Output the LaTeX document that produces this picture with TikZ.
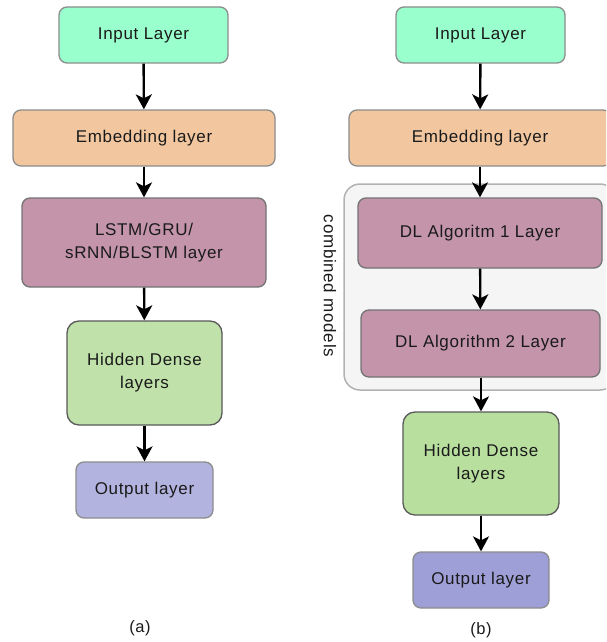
\documentclass[tikz,border=0pt]{standalone}
\usepackage{fontspec}
\setmainfont{Liberation Sans}[LetterSpace=4]
\usetikzlibrary{arrows.meta}
\definecolor{inFill}{HTML}{99FFCC}
\definecolor{embFill}{HTML}{F2C79F}
\definecolor{rnnFill}{HTML}{C394AA}
\definecolor{hidFillA}{HTML}{C0E1AA}
\definecolor{hidFillB}{HTML}{B9DF9E}
\definecolor{outFillA}{HTML}{B3B3E0}
\definecolor{outFillB}{HTML}{9F9FD8}
\definecolor{txt}{HTML}{1A1A1A}
\tikzset{
  box/.style={rectangle, rounded corners=8pt, draw=black!45, line width=1.3pt, inner sep=0pt, align=center, text=txt, font=\fontsize{17}{23}\selectfont},
  darkbox/.style={box, draw=black!65},
  flow/.style={line width=2.4pt, -{Stealth[length=15pt,width=16pt,inset=4pt]}},
  caption/.style={inner sep=0pt, text=txt, font=\fontsize{16.5}{20}\selectfont}
}
\begin{document}
\begin{tikzpicture}[x=1pt,y=-1pt]
\useasboundingbox (0,0) rectangle (606,642);
\clip (0,0) rectangle (606,642);
% (a)
\node[box, fill=inFill, minimum width=169pt, minimum height=56pt] (inA) at (143.5,35) {Input Layer};
\node[box, fill=embFill, minimum width=262pt, minimum height=56pt] (embA) at (144,138) {Embedding layer};
\node[box, fill=rnnFill, draw=black!55, minimum width=244pt, minimum height=89pt] (lstm) at (144,242.5) {LSTM/GRU/\\sRNN/BLSTM layer};
\node[darkbox, fill=hidFillA, minimum width=155pt, minimum height=104pt, rounded corners=12pt] (hidA) at (144.5,373) {Hidden Dense\\layers};
\node[box, fill=outFillA, minimum width=137pt, minimum height=56pt] (outA) at (144.5,490) {Output layer};
\node[caption] (labA) at (140,628) {(a)};
\draw[flow] (inA) -- (embA);
\draw[flow] (embA) -- (lstm);
\draw[flow] (lstm) -- (hidA);
\draw[flow] (hidA) -- (outA);
% (b)
\node[box, fill=inFill, minimum width=169pt, minimum height=56pt] (inB) at (480.5,35) {Input Layer};
\node[box, fill=embFill, minimum width=262pt, minimum height=56pt] (embB) at (480,138) {Embedding layer};
\node[rectangle, rounded corners=16pt, draw=black!30, fill=black!4, line width=1.5pt, minimum width=272pt, minimum height=206pt, inner sep=0pt] (cont) at (480,287) {};
\node[caption, rotate=-90, font=\fontsize{17}{20}\selectfont] (cm) at (330,286) {combined models};
\node[box, fill=rnnFill, draw=black!55, minimum width=244pt, minimum height=70pt] (dl1) at (480,233) {DL Algoritm 1 Layer};
\node[box, fill=rnnFill, draw=black!55, minimum width=239pt, minimum height=67pt] (dl2) at (480.5,343.5) {\raisebox{-5pt}{DL Algorithm 2 Layer}};
\node[darkbox, fill=hidFillB, minimum width=156pt, minimum height=103pt, rounded corners=12pt] (hidB) at (481,463.5) {Hidden Dense\\layers};
\node[box, fill=outFillB, minimum width=136pt, minimum height=56pt] (outB) at (481,580) {Output layer};
\node[caption] (labB) at (481,630) {(b)};
\draw[flow] (inB) -- (embB);
\draw[flow] (embB) -- (dl1);
\draw[flow] (dl1) -- (dl2);
\draw[flow] (dl2.south -| hidB.north) -- (hidB);
\draw[flow] (hidB) -- (outB);
\end{tikzpicture}
\end{document}
